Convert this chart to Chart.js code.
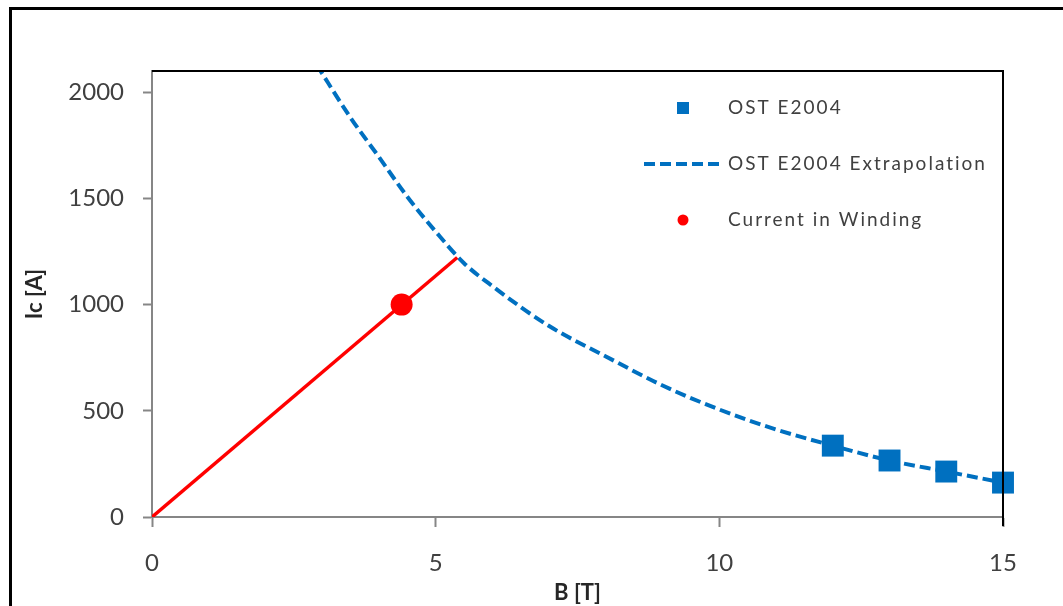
<!DOCTYPE html>
<html>
<head>
<meta charset="utf-8">
<script src="https://cdn.jsdelivr.net/npm/chart.js@4.4.1/dist/chart.umd.min.js"></script>
<style>
  html, body { margin: 0; padding: 0; background: #fff; }
  #wrap { width: 1063px; height: 606px; }
</style>
</head>
<body>
<div id="wrap"><canvas id="myChart" width="1063" height="606"></canvas></div>
<script>
// values
const measB = [12, 13, 14, 15];
const measIc = [336, 266, 214, 162];

const extrapB = [2.9, 3.5, 4, 4.5, 5, 5.5, 6, 7, 8, 9, 10, 11, 12, 13, 14, 15];
const extrapIc = [2130, 1880, 1695, 1508, 1344, 1195, 1087, 899, 756, 619, 506, 412, 336, 266, 214, 162];

const loadB = [0, 5.38];
const loadIc = [0, 1222];

const windingB = [4.4];
const windingIc = [1000];

const xTicks = [0, 5, 10, 15];
const yTicks = [0, 500, 1000, 1500, 2000];

const legendLabels = ["OST E2004", "OST E2004 Extrapolation", "Current in Winding"];

const blue = "#0070C0";
const red = "#FF0000";
const tickGray = "#404040";

function pts(xs, ys) {
  return xs.map(function (x, i) { return { x: x, y: ys[i] }; });
}

const frame = {
  id: "frame",
  beforeDraw: function (chart) {
    const ctx = chart.ctx;
    ctx.save();
    ctx.fillStyle = "#fff";
    ctx.fillRect(0, 0, chart.width, chart.height);
    ctx.strokeStyle = "#000";
    ctx.lineWidth = 3;
    ctx.strokeRect(10.5, 8.5, 1200, 800);
    ctx.restore();
  },
  afterDraw: function (chart) {
    const ctx = chart.ctx;
    const a = chart.chartArea;
    ctx.save();
    // top and right border of the plot box
    ctx.strokeStyle = "#000";
    ctx.lineWidth = 2;
    ctx.beginPath();
    ctx.moveTo(a.left, a.top);
    ctx.lineTo(a.right, a.top);
    ctx.lineTo(a.right, a.bottom + 9);
    ctx.stroke();

    // legend inside the plot
    const rowY = [108, 164, 220];
    const symX = 683;
    ctx.font = "19px Lato";
    ctx.letterSpacing = "2px";
    ctx.fillStyle = tickGray;
    ctx.textBaseline = "middle";
    legendLabels.forEach(function (t, i) {
      ctx.fillText(t, 728, rowY[i]);
    });
    ctx.letterSpacing = "0px";
    ctx.fillStyle = blue;
    ctx.fillRect(symX - 6, rowY[0] - 6, 12, 12);
    ctx.strokeStyle = blue;
    ctx.lineWidth = 4;
    ctx.setLineDash([11, 5]);
    ctx.beginPath();
    ctx.moveTo(644, rowY[1]);
    ctx.lineTo(722, rowY[1]);
    ctx.stroke();
    ctx.setLineDash([]);
    ctx.fillStyle = red;
    ctx.beginPath();
    ctx.arc(symX, rowY[2], 5.5, 0, Math.PI * 2);
    ctx.fill();
    ctx.restore();
  }
};

const ctx = document.getElementById("myChart").getContext("2d");

const myChart = new Chart(ctx, {
  type: "scatter",
  data: {
    datasets: [
      {
        label: legendLabels[0],
        data: pts(measB, measIc),
        showLine: false,
        pointStyle: "rect",
        pointRadius: 15.5,
        pointHoverRadius: 15.5,
        backgroundColor: blue,
        borderColor: blue,
        borderWidth: 0,
        clip: false,
        order: 1,
      },
      {
        label: legendLabels[1],
        data: pts(extrapB, extrapIc),
        showLine: true,
        borderColor: blue,
        borderWidth: 4,
        borderDash: [11, 5],
        pointRadius: 0,
        cubicInterpolationMode: "monotone",
        order: 3,
      },
      {
        label: "load line",
        data: pts(loadB, loadIc),
        showLine: true,
        borderColor: red,
        borderWidth: 3.5,
        pointRadius: 0,
        order: 2,
      },
      {
        label: legendLabels[2],
        data: pts(windingB, windingIc),
        showLine: false,
        pointStyle: "circle",
        pointRadius: 11,
        pointHoverRadius: 11,
        backgroundColor: red,
        borderWidth: 0,
        order: 0,
      },
    ],
  },
  options: {
    responsive: false,
    animation: false,
    events: [],
    layout: { padding: { top: 71, right: 60, left: 0, bottom: 0 } },
    plugins: {
      legend: { display: false },
      tooltip: { enabled: false },
    },
    scales: {
      x: {
        type: "linear",
        min: 0,
        max: 15,
        afterFit: function (s) { s.height = 89; },
        afterBuildTicks: function (s) { s.ticks = xTicks.map(function (v) { return { value: v }; }); },
        grid: { drawOnChartArea: false, tickLength: 10, tickColor: "#868686", tickWidth: 2 },
        border: { color: "#868686", width: 2 },
        ticks: {
          color: tickGray,
          padding: 22,
          font: { family: "Lato", size: 24 },
          maxRotation: 0,
          callback: function (v) { return String(v); },
        },
        title: {
          display: true,
          text: "B [T]",
          color: "#262626",
          font: { family: "Lato", size: 22, weight: "bold" },
          padding: { top: 0, bottom: 0 },
        },
      },
      y: {
        type: "linear",
        min: 0,
        max: 2100,
        afterFit: function (s) { s.width = 152; },
        afterBuildTicks: function (s) { s.ticks = yTicks.map(function (v) { return { value: v }; }); },
        grid: { drawOnChartArea: false, tickLength: 9, tickColor: "#868686", tickWidth: 2 },
        border: { color: "#868686", width: 2 },
        ticks: {
          color: tickGray,
          padding: 19,
          font: { family: "Lato", size: 24 },
          callback: function (v) { return String(v); },
        },
        title: {
          display: true,
          text: "Ic [A]",
          color: "#262626",
          font: { family: "Lato", size: 22, weight: "bold" },
          padding: { top: 22, bottom: 0 },
        },
      },
    },
  },
  plugins: [frame],
});
</script>
</body>
</html>
